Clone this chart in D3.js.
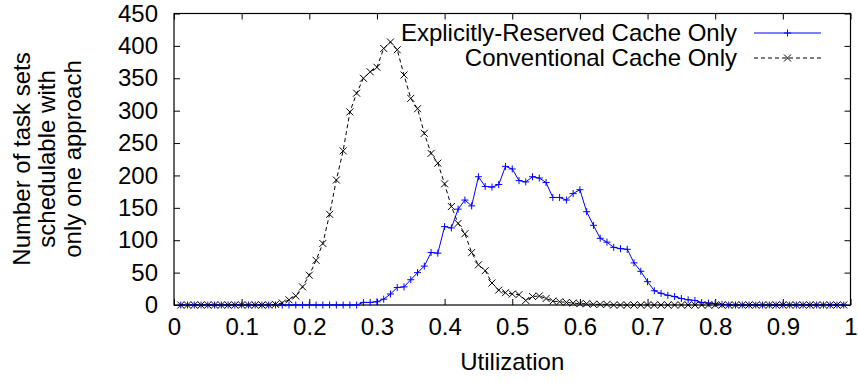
<!DOCTYPE html>
<html>
<head>
<meta charset="utf-8">
<script src="https://cdn.jsdelivr.net/npm/d3@7"></script>
<style>
  body { margin: 0; background: #fff; }
  svg { display: block; font-family: "Liberation Sans", Arial, sans-serif; }
</style>
</head>
<body>
<div id="chart"></div>
<script>
// utilization points (x)
const utilization = [
  0.01, 0.02, 0.03, 0.04, 0.05, 0.06, 0.07, 0.08, 0.09, 0.10,
  0.11, 0.12, 0.13, 0.14, 0.15, 0.16, 0.17, 0.18, 0.19, 0.20,
  0.21, 0.22, 0.23, 0.24, 0.25, 0.26, 0.27, 0.28, 0.29, 0.30,
  0.31, 0.32, 0.33, 0.34, 0.35, 0.36, 0.37, 0.38, 0.39, 0.40,
  0.41, 0.42, 0.43, 0.44, 0.45, 0.46, 0.47, 0.48, 0.49, 0.50,
  0.51, 0.52, 0.53, 0.54, 0.55, 0.56, 0.57, 0.58, 0.59, 0.60,
  0.61, 0.62, 0.63, 0.64, 0.65, 0.66, 0.67, 0.68, 0.69, 0.70,
  0.71, 0.72, 0.73, 0.74, 0.75, 0.76, 0.77, 0.78, 0.79, 0.80,
  0.81, 0.82, 0.83, 0.84, 0.85, 0.86, 0.87, 0.88, 0.89, 0.90,
  0.91, 0.92, 0.93, 0.94, 0.95, 0.96, 0.97, 0.98, 0.99
];

// Explicitly-Reserved Cache Only
const reserved = [
  0, 0, 0, 0, 0, 0, 0, 0, 0, 0,
  0, 0, 0, 0, 0, 0, 0, 0, 0, 0,
  0, 0, 0, 0, 0, 0, 0, 4, 4, 5,
  9, 17, 27, 28, 39, 50, 60, 81, 80, 121,
  119, 148, 162, 153, 198, 183, 182, 186, 214, 210,
  192, 190, 198, 196, 189, 166, 166, 162, 172, 178,
  144, 123, 103, 97, 89, 87, 86, 65, 52, 36,
  22, 18, 15, 13, 10, 8, 7, 4, 3, 2,
  1, 0, 0, 0, 0, 0, 0, 0, 0, 0,
  0, 0, 0, 0, 0, 0, 0, 0, 0
];

// Conventional Cache Only
const conventional = [
  0, 0, 0, 0, 0, 0, 0, 0, 0, 0,
  0, 0, 0, 0, 1, 3, 8, 14, 28, 46,
  69, 95, 140, 193, 238, 298, 327, 350, 360, 367,
  396, 406, 394, 355, 319, 303, 265, 234, 219, 187,
  152, 126, 110, 81, 62, 53, 34, 23, 19, 17,
  16, 7, 13, 14, 10, 6, 5, 4, 3, 2,
  2, 1, 1, 1, 0, 0, 0, 0, 0, 0,
  0, 0, 0, 0, 0, 0, 0, 0, 0, 0,
  0, 0, 0, 0, 0, 0, 0, 0, 0, 0,
  0, 0, 0, 0, 0, 0, 0, 0, 0
];

const xTicks = [0, 0.1, 0.2, 0.3, 0.4, 0.5, 0.6, 0.7, 0.8, 0.9, 1];
const yTicks = [0, 50, 100, 150, 200, 250, 300, 350, 400, 450];

const series = [
  { name: "Explicitly-Reserved Cache Only", values: reserved, color: "#0000ff", dash: null, marker: "plus" },
  { name: "Conventional Cache Only", values: conventional, color: "#000000", dash: "4,3", marker: "cross" }
];

const width = 858, height = 383;
const margin = { top: 13.5, right: 7.5, bottom: 78, left: 174 };

const svg = d3.select("#chart")
  .append("svg")
  .attr("width", width)
  .attr("height", height);

const x = d3.scaleLinear().domain([0, 1]).range([margin.left, width - margin.right]);
const y = d3.scaleLinear().domain([0, 450]).range([height - margin.bottom, margin.top]);

const fontSize = 24;

// axes, ticks inward on all four sides
svg.append("g")
  .attr("transform", "translate(0," + y(0) + ")")
  .call(d3.axisBottom(x).tickValues(xTicks).tickSize(-6).tickPadding(13)
    .tickFormat(d => d3.format("")(d)))
  .call(g => g.select(".domain").remove())
  .call(g => g.selectAll("text").attr("font-size", fontSize).attr("font-family", null).attr("fill", "#000"));

svg.append("g")
  .attr("transform", "translate(0," + y(450) + ")")
  .call(d3.axisTop(x).tickValues(xTicks).tickSize(-6).tickFormat(""))
  .call(g => g.select(".domain").remove());

svg.append("g")
  .attr("transform", "translate(" + x(0) + ",0)")
  .call(d3.axisLeft(y).tickValues(yTicks).tickSize(-6).tickPadding(16))
  .call(g => g.select(".domain").remove())
  .call(g => g.selectAll("text").attr("font-size", fontSize).attr("font-family", null).attr("fill", "#000"));

svg.append("g")
  .attr("transform", "translate(" + x(1) + ",0)")
  .call(d3.axisRight(y).tickValues(yTicks).tickSize(-6).tickFormat(""))
  .call(g => g.select(".domain").remove());

// frame
svg.append("rect")
  .attr("x", x(0))
  .attr("y", y(450))
  .attr("width", x(1) - x(0))
  .attr("height", y(0) - y(450))
  .attr("fill", "none")
  .attr("stroke", "#000")
  .attr("stroke-width", 1.2);

// lines
const line = d3.line()
  .x((d, i) => x(utilization[i]))
  .y(d => y(d));

function drawMarker(g, type, cx, cy, color) {
  const s = 3.5;
  if (type === "plus") {
    g.append("path")
      .attr("d", `M${cx - s},${cy}H${cx + s}M${cx},${cy - s}V${cy + s}`)
      .attr("stroke", color).attr("stroke-width", 1).attr("fill", "none");
  } else {
    g.append("path")
      .attr("d", `M${cx - s},${cy - s}L${cx + s},${cy + s}M${cx - s},${cy + s}L${cx + s},${cy - s}`)
      .attr("stroke", color).attr("stroke-width", 1).attr("fill", "none");
  }
}

series.forEach(s => {
  svg.append("path")
    .datum(s.values)
    .attr("d", line)
    .attr("fill", "none")
    .attr("stroke", s.color)
    .attr("stroke-width", 1)
    .attr("stroke-dasharray", s.dash);

  const mg = svg.append("g");
  s.values.forEach((v, i) => drawMarker(mg, s.marker, x(utilization[i]), y(v), s.color));
});

// legend
const legend = svg.append("g");
series.forEach((s, i) => {
  const ly = 33 + i * 25;
  legend.append("text")
    .attr("x", 737)
    .attr("y", ly)
    .attr("dy", "0.35em")
    .attr("text-anchor", "end")
    .attr("font-size", fontSize)
    .text(s.name);
  legend.append("line")
    .attr("x1", 754).attr("x2", 821)
    .attr("y1", ly).attr("y2", ly)
    .attr("stroke", s.color)
    .attr("stroke-width", 1)
    .attr("stroke-dasharray", s.dash);
  drawMarker(legend, s.marker, 787.5, ly, s.color);
});

// axis labels
svg.append("text")
  .attr("x", (x(0) + x(1)) / 2)
  .attr("y", 362)
  .attr("dy", "0.35em")
  .attr("text-anchor", "middle")
  .attr("font-size", fontSize)
  .text("Utilization");

const yLabel = ["Number of task sets", "schedulable with", "only one approach"];
svg.append("g")
  .attr("transform", "translate(47,159)rotate(-90)")
  .selectAll("text")
  .data(yLabel)
  .enter()
  .append("text")
  .attr("x", 0)
  .attr("y", (d, i) => (i - 1) * 25.5)
  .attr("dy", "0.35em")
  .attr("text-anchor", "middle")
  .attr("font-size", fontSize)
  .text(d => d);
</script>
</body>
</html>
